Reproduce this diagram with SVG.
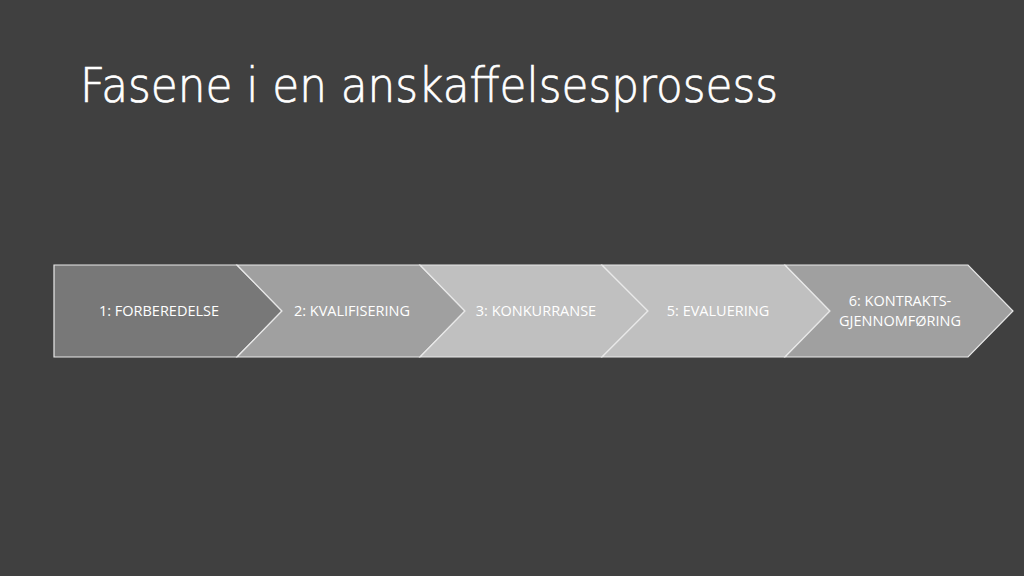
<svg xmlns="http://www.w3.org/2000/svg" width="1024" height="576" viewBox="0 0 1024 576">
<style>
.bg{fill:#404040}
.step{stroke:#e8e8e8;stroke-width:1.2;stroke-linejoin:miter}
.lbl{font-family:"Open Sans","Liberation Sans",sans-serif;font-size:14.5px;fill:#ffffff;text-anchor:middle}
.title{font-family:"DejaVu Sans","Liberation Sans",sans-serif;font-weight:200;font-size:48px;fill:#ffffff;stroke:#ffffff;stroke-width:0.7}
</style>
<rect class="bg" x="0" y="0" width="1024" height="576"/>
<text class="title" x="80" y="102" textLength="698" lengthAdjust="spacingAndGlyphs">Fasene i en anskaffelsesprosess</text>
<g id="connectors"></g>
<g id="step1">
<path class="step" fill="#787878" d="M54,265 L237,265 L282,311 L237,357 L54,357 Z"/>
<text class="lbl" x="159" y="316">1: FORBEREDELSE</text>
</g>
<g id="step2">
<path class="step" fill="#a0a0a0" d="M237,265 L420,265 L465,311 L420,357 L237,357 L282,311 Z"/>
<text class="lbl" x="352" y="316">2: KVALIFISERING</text>
</g>
<g id="step3">
<path class="step" fill="#c0c0c0" d="M420,265 L602,265 L648,311 L602,357 L420,357 L465,311 Z"/>
<text class="lbl" x="536" y="316">3: KONKURRANSE</text>
</g>
<g id="step4">
<path class="step" fill="#c0c0c0" d="M602,265 L785,265 L830,311 L785,357 L602,357 L648,311 Z"/>
<text class="lbl" x="718" y="316">5: EVALUERING</text>
</g>
<g id="step5">
<path class="step" fill="#a0a0a0" d="M785,265 L968,265 L1013,311 L968,357 L785,357 L830,311 Z"/>
<text class="lbl" x="900" y="306">6: KONTRAKTS-</text>
<text class="lbl" x="900" y="326">GJENNOMFØRING</text>
</g>
</svg>
